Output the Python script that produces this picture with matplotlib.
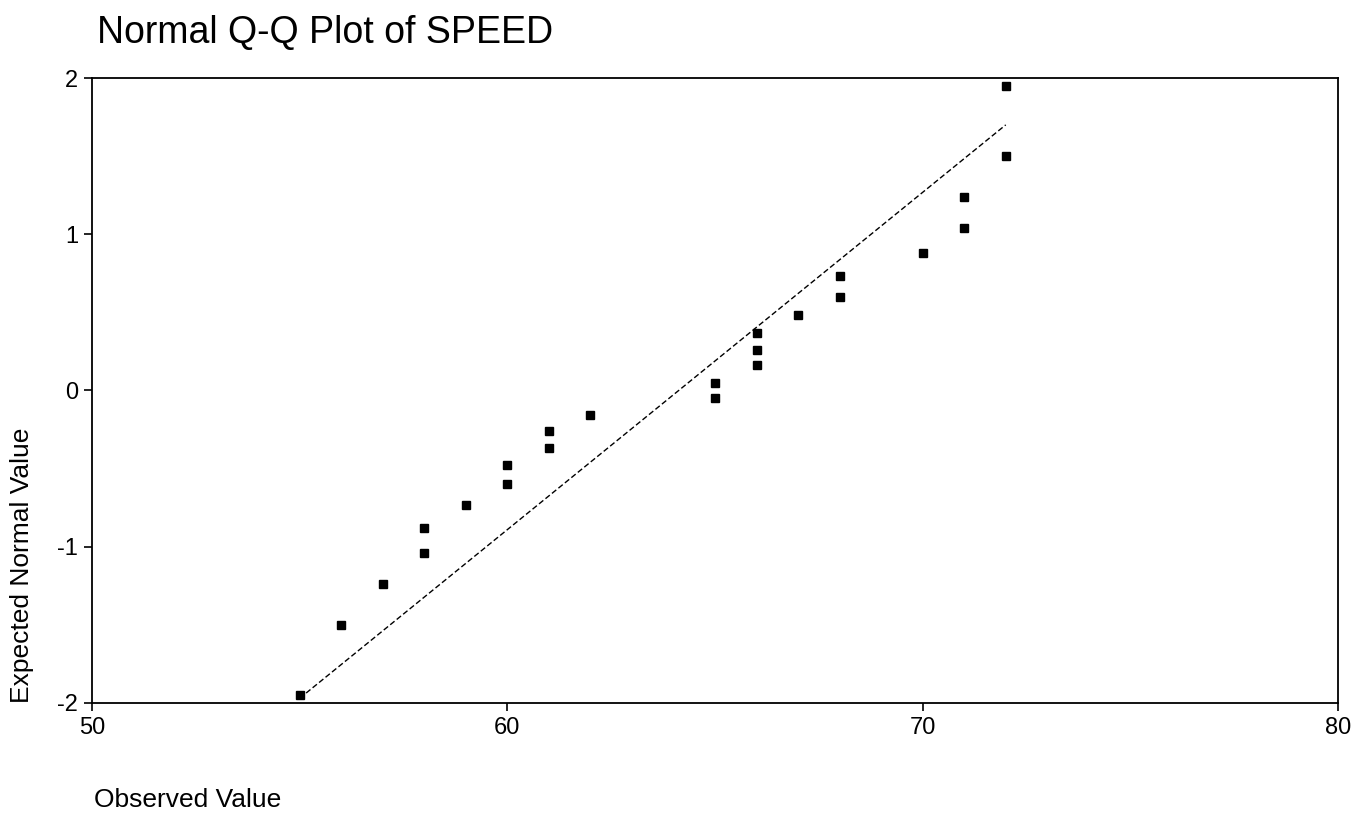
import numpy as np
import matplotlib
matplotlib.use("Agg")
import matplotlib.pyplot as plt

speed = [55, 56, 57, 58, 58, 59, 60, 60, 61, 61, 62, 65,
         65, 66, 66, 66, 67, 68, 68, 70, 71, 71, 72, 72]
expected = [-1.95, -1.50, -1.24, -1.04, -0.88, -0.73, -0.60, -0.48,
            -0.37, -0.26, -0.16, -0.05, 0.05, 0.16, 0.26, 0.37,
            0.48, 0.60, 0.73, 0.88, 1.04, 1.24, 1.50, 1.95]

# reference line end points
line_x = [55, 72]
line_y = [-1.97, 1.70]

xticks = [50, 60, 70, 80]
yticks = [-2, -1, 0, 1, 2]

sans = ["Liberation Sans", "DejaVu Sans"]

fig = plt.figure(figsize=(13.65, 8.16), dpi=100)
ax = fig.add_axes([0.0674, 0.1385, 0.9128, 0.7659])

ax.plot(line_x, line_y, color="black", lw=1.0, ls=(0, (4, 2)))
ax.plot(speed, expected, ls="none", marker="s", ms=6, color="black")

ax.set_xlim(50, 80)
ax.set_ylim(-2, 2)
ax.set_xticks(xticks)
ax.set_yticks(yticks)
ax.set_xticklabels([str(t) for t in xticks], family=sans, fontsize=17)
ax.set_yticklabels([str(t) for t in yticks], family=sans, fontsize=17)
ax.tick_params(direction="out", length=6, width=1.2, pad=4)

for s in ax.spines.values():
    s.set_linewidth(1.3)
    s.set_color("black")

fig.text(0.071, 0.947, "Normal Q-Q Plot of SPEED", family=sans,
         fontsize=27, ha="left", va="baseline")
fig.text(0.069, 0.011, "Observed Value", family=sans, fontsize=19,
         ha="left", va="baseline")
fig.text(0.016, 0.139, "Expected Normal Value", family=sans, fontsize=19,
         rotation=90, ha="center", va="bottom")

fig.savefig("out.png", dpi=100)
